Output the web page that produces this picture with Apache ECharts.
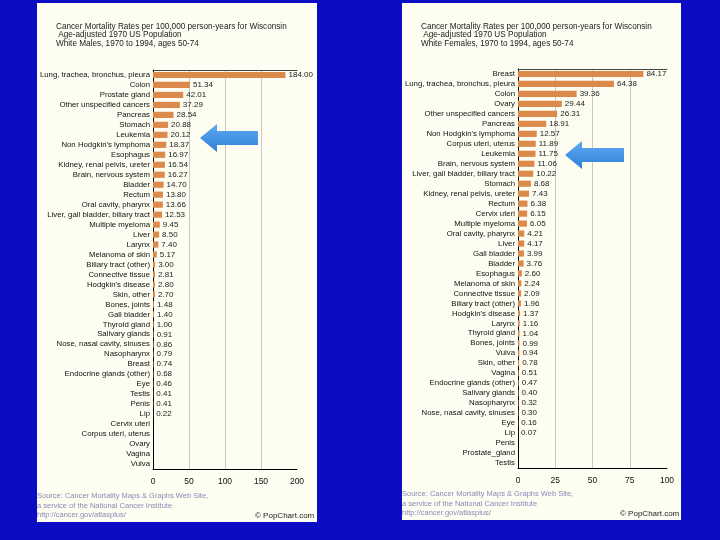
<!DOCTYPE html>
<html><head><meta charset="utf-8">
<script src="https://cdn.jsdelivr.net/npm/echarts@6/dist/echarts.min.js"></script>
<style>html,body{margin:0;padding:0;background:#0c0cc4;}#c{width:720px;height:540px;}</style>
</head><body><div id="c"></div>
<script>
const maleCategories = ["Lung, trachea, bronchus, pleura","Colon","Prostate gland","Other unspecified cancers","Pancreas","Stomach","Leukemia","Non Hodgkin's lymphoma","Esophagus","Kidney, renal pelvis, ureter","Brain, nervous system","Bladder","Rectum","Oral cavity, pharynx","Liver, gall bladder, biliary tract","Multiple myeloma","Liver","Larynx","Melanoma of skin","Biliary tract (other)","Connective tissue","Hodgkin's disease","Skin, other","Bones, joints","Gall bladder","Thyroid gland","Salivary glands","Nose, nasal cavity, sinuses","Nasopharynx","Breast","Endocrine glands (other)","Eye","Testis","Penis","Lip","Cervix uteri","Corpus uteri, uterus","Ovary","Vagina","Vulva"];
const maleValues = [184.00,51.34,42.01,37.29,28.54,20.88,20.12,18.37,16.97,16.54,16.27,14.70,13.80,13.66,12.53,9.45,8.50,7.40,5.17,3.00,2.81,2.80,2.70,1.48,1.40,1.00,0.91,0.86,0.79,0.74,0.68,0.46,0.41,0.41,0.22,null,null,null,null,null];
const femaleCategories = ["Breast","Lung, trachea, bronchus, pleura","Colon","Ovary","Other unspecified cancers","Pancreas","Non Hodgkin's lymphoma","Corpus uteri, uterus","Leukemia","Brain, nervous system","Liver, gall bladder, biliary tract","Stomach","Kidney, renal pelvis, ureter","Rectum","Cervix uteri","Multiple myeloma","Oral cavity, pharynx","Liver","Gall bladder","Bladder","Esophagus","Melanoma of skin","Connective tissue","Biliary tract (other)","Hodgkin's disease","Larynx","Thyroid gland","Bones, joints","Vulva","Skin, other","Vagina","Endocrine glands (other)","Salivary glands","Nasopharynx","Nose, nasal cavity, sinuses","Eye","Lip","Penis","Prostate_gland","Testis"];
const femaleValues = [84.17,64.38,39.36,29.44,26.31,18.91,12.57,11.89,11.75,11.06,10.22,8.68,7.43,6.38,6.15,6.05,4.21,4.17,3.99,3.76,2.60,2.24,2.09,1.96,1.37,1.16,1.04,0.99,0.94,0.78,0.51,0.47,0.40,0.32,0.30,0.16,0.07,null,null,null];
const maleTicks = {min:0, max:200, interval:50};
const femaleTicks = {min:0, max:100, interval:25};
const maleTitle = ["Cancer Mortality Rates per 100,000 person-years for Wisconsin"," Age-adjusted 1970 US Population","White Males, 1970 to 1994, ages 50-74"];
const femaleTitle = ["Cancer Mortality Rates per 100,000 person-years for Wisconsin"," Age-adjusted 1970 US Population","White Females, 1970 to 1994, ages 50-74"];
const sourceLines = ["Source: Cancer Mortality Maps & Graphs Web Site,","a service of the National Cancer Institute","http://cancer.gov/atlasplus/"];

const FONT = "'Liberation Sans', Arial, sans-serif";
const BAR = '#dc8a4c';
const chart = echarts.init(document.getElementById('c'), null, {renderer:'canvas'});

function xAxes(t, gi){
  return [{
    type:'value', gridIndex:gi, min:t.min, max:t.max, interval:t.interval, position:'bottom',
    axisLine:{show:true, lineStyle:{color:'#000', width:1}},
    axisTick:{show:false},
    axisLabel:{color:'#111', fontSize:8.5, fontFamily:FONT, margin:8},
    splitLine:{show:true, showMinLine:false, showMaxLine:false, lineStyle:{color:'#c8c8c0', width:1}}
  },{
    type:'value', gridIndex:gi, min:t.min, max:t.max, interval:t.interval, position:'top',
    axisLine:{show:true, lineStyle:{color:'#444', width:1}},
    axisTick:{show:false}, axisLabel:{show:false}, splitLine:{show:false}
  }];
}
function yAxis(cats, gi){
  return {
    type:'category', gridIndex:gi, data:cats, inverse:true,
    axisLine:{show:true, lineStyle:{color:'#000', width:1}},
    axisTick:{show:false},
    axisLabel:{interval:0, color:'#111', fontSize:7.8, fontFamily:FONT, margin:3}
  };
}
function series(vals, xi, yi){
  return {
    type:'bar', xAxisIndex:xi, yAxisIndex:yi, data:vals, barCategoryGap:'38%',
    itemStyle:{color:BAR},
    label:{show:true, position:'right', distance:3, fontSize:8, fontFamily:FONT, color:'#222',
      formatter:p => (p.value==null ? '' : Number(p.value).toFixed(2))},
    silent:true
  };
}
function textLines(lines, x, y0, dy, size, color){
  return lines.map((s,i)=>({type:'text', left:x, top:y0+i*dy, z:10,
    style:{text:s, fill:color, font:`${size}px ${FONT}`}}));
}
function arrow(tipX, cy, baseX, endX, headH, shaftH){
  return {type:'polygon', z:20,
    shape:{points:[[tipX,cy],[baseX,cy-headH/2],[baseX,cy-shaftH/2],[endX,cy-shaftH/2],[endX,cy+shaftH/2],[baseX,cy+shaftH/2],[baseX,cy+headH/2]]},
    style:{fill:new echarts.graphic.LinearGradient(0,0,0,1,[{offset:0,color:'#5eaaf2'},{offset:1,color:'#2f7fd6'}])}};
}

const graphics = [
  {type:'rect', z:-10, shape:{x:37,y:3,width:280,height:519}, style:{fill:'#fdfdf1'}},
  {type:'rect', z:-10, shape:{x:402,y:3,width:279,height:517}, style:{fill:'#fdfdf1'}},
  ...textLines(maleTitle, 56, 22.5, 8.7, 8.2, '#222'),
  ...textLines(femaleTitle, 421, 22.5, 8.7, 8.2, '#222'),
  ...textLines(sourceLines, 37, 492, 9.5, 7.5, '#8a8ab8'),
  ...textLines(sourceLines, 402, 490, 9.5, 7.5, '#8a8ab8'),
  {type:'text', left:255, top:512, z:10, style:{text:'\u00A9 PopChart.com', fill:'#222', font:`8px ${FONT}`}},
  {type:'text', left:620, top:510, z:10, style:{text:'\u00A9 PopChart.com', fill:'#222', font:`8px ${FONT}`}},
  arrow(200, 138, 217, 258, 28, 14),
  arrow(565, 155, 582, 624, 28, 14)
];

chart.setOption({
  backgroundColor:'#0c0cc4',
  animation:false,
  grid:[
    {left:153, top:70, width:144, height:399, containLabel:false},
    {left:518, top:69, width:149, height:399, containLabel:false}
  ],
  xAxis:[...xAxes(maleTicks,0), ...xAxes(femaleTicks,1)],
  yAxis:[yAxis(maleCategories,0), yAxis(femaleCategories,1)],
  series:[series(maleValues,0,0), series(femaleValues,2,1)],
  graphic:graphics
});
</script></body></html>
